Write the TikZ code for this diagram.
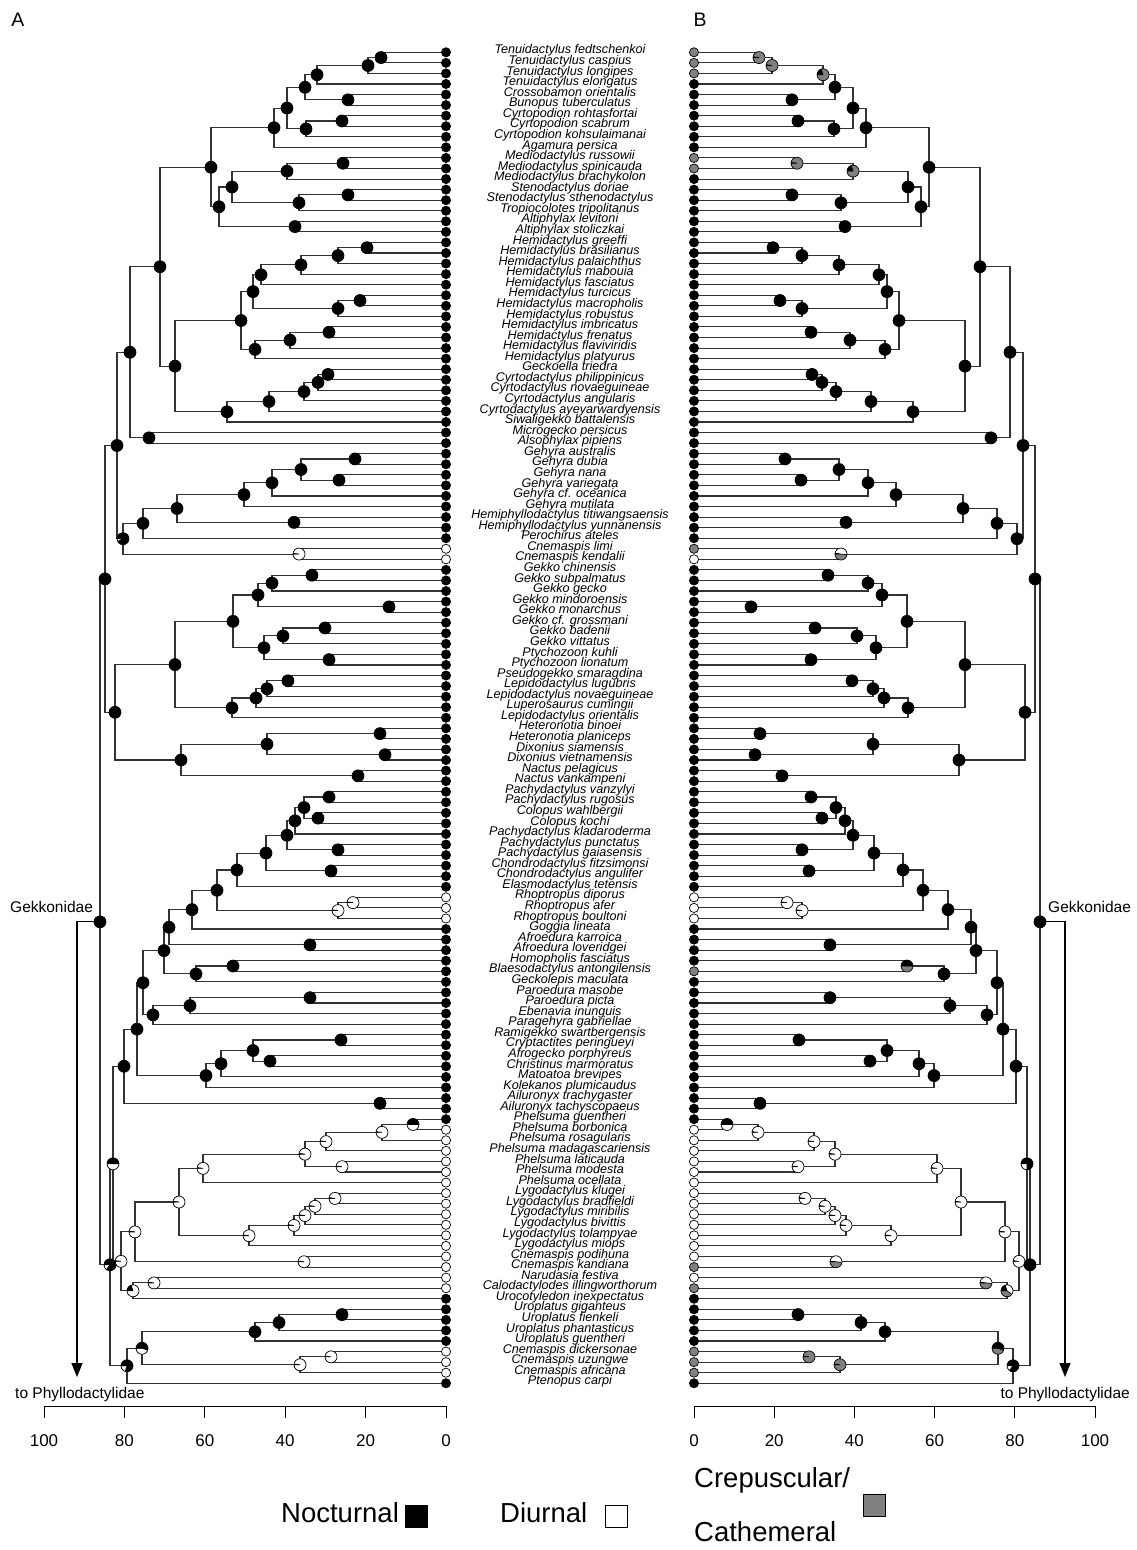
\documentclass[tikz,border=0pt]{standalone}
\usepackage{fontspec}
\setmainfont{Liberation Sans}
\usepackage{xcolor}
\usetikzlibrary{arrows.meta,calc}
\pgfdeclarelayer{bg}
\pgfsetlayers{bg,main}
\definecolor{crepgray}{gray}{0.5}
\definecolor{branchgray}{gray}{0.2}
\colorlet{stateN}{black}
\colorlet{stateD}{white}
\colorlet{stateC}{crepgray}
\def\pierad{6pt}
\def\tiprad{4.6pt}

% pie: coordinate, black share, white share (rest grey), clockwise from west
\newcommand\pie[3]{%
  \pgfmathsetmacro\pieA{180-360*#2}%
  \pgfmathsetmacro\pieB{180-360*(#2+#3)}%
  \fill[crepgray] (#1) circle[radius=\pierad];
  \ifdim #3pt>0pt
    \fill[white] (#1) -- ++(\pieA:\pierad) arc[start angle=\pieA, end angle=\pieB, radius=\pierad] -- cycle;
  \fi
  \ifdim #2pt>0pt
    \fill[black] (#1) -- ++(180:\pierad) arc[start angle=180, end angle=\pieA, radius=\pierad] -- cycle;
  \fi
  \draw[pieedge] (#1) -- ++(180:\pierad) (#1) -- ++(\pieA:\pierad) (#1) -- ++(\pieB:\pierad)
    (#1) circle[radius=\pierad];
}

% clade: name, child, child, depth, left black/white, right black/white
\newcommand\clade[8]{%
  \path let \p1=(L#2), \p2=(L#3) in
    coordinate (L#1) at ({(446-#4)*1pt},{(\y1+\y2)/2})
    coordinate (R#1) at ({(694+#4)*1pt},{(\y1+\y2)/2});
  \begin{pgfonlayer}{bg}
    \draw[branch] (L#2) -| (L#1) |- (L#3);
    \draw[branch] (R#2) -| (R#1) |- (R#3);
  \end{pgfonlayer}
  \pie{L#1}{#5}{#6}%
  \pie{R#1}{#7}{#8}%
}

\begin{document}
\begin{tikzpicture}[x=1pt, y=-1pt,
  branch/.style={draw=branchgray, line width=1.1pt},
  pieedge/.style={draw=black, line width=0.7pt},
  tipdot/.style={draw=black, line width=0.7pt},
  taxon/.style={font=\fontsize{12.6}{13}\selectfont\itshape, inner sep=0pt, anchor=mid},
  grouplabel/.style={font=\fontsize{15.5}{17}\selectfont, inner sep=0pt},
  ticklabel/.style={font=\fontsize{17}{19}\selectfont, inner sep=0pt},
  panel/.style={font=\fontsize{19.5}{21}\selectfont, inner sep=0pt},
  legendtext/.style={font=\fontsize{27.5}{33}\selectfont, inner sep=0pt},
  legendtwo/.style={font=\fontsize{27.5}{54}\selectfont, inner sep=0pt, align=left},
  keybox/.style={draw=black, line width=0.8pt, minimum size=22pt, inner sep=0pt},
  axisline/.style={draw=black, line width=0.9pt},
  stem/.style={draw=black, line width=1.1pt, -{Triangle[length=14pt, width=11pt]}}
]
\useasboundingbox (0,0) rectangle (1137,1550);
\begin{pgfonlayer}{bg}
  \fill[white] (0,0) rectangle (1137,1550);
\end{pgfonlayer}

\foreach \i/\sp/\sl/\sr in {
  1/Tenuidactylus fedtschenkoi/N/C,
  2/Tenuidactylus caspius/N/C,
  3/Tenuidactylus longipes/N/C,
  4/Tenuidactylus elongatus/N/N,
  5/Crossobamon orientalis/N/N,
  6/Bunopus tuberculatus/N/N,
  7/Cyrtopodion rohtasfortai/N/N,
  8/Cyrtopodion scabrum/N/N,
  9/Cyrtopodion kohsulaimanai/N/N,
  10/Agamura persica/N/N,
  11/Mediodactylus russowii/N/C,
  12/Mediodactylus spinicauda/N/C,
  13/Mediodactylus brachykolon/N/N,
  14/Stenodactylus doriae/N/N,
  15/Stenodactylus sthenodactylus/N/N,
  16/Tropiocolotes tripolitanus/N/N,
  17/Altiphylax levitoni/N/N,
  18/Altiphylax stoliczkai/N/N,
  19/Hemidactylus greeffi/N/N,
  20/Hemidactylus brasilianus/N/N,
  21/Hemidactylus palaichthus/N/N,
  22/Hemidactylus mabouia/N/N,
  23/Hemidactylus fasciatus/N/N,
  24/Hemidactylus turcicus/N/N,
  25/Hemidactylus macropholis/N/N,
  26/Hemidactylus robustus/N/N,
  27/Hemidactylus imbricatus/N/N,
  28/Hemidactylus frenatus/N/N,
  29/Hemidactylus flaviviridis/N/N,
  30/Hemidactylus platyurus/N/N,
  31/Geckoella triedra/N/N,
  32/Cyrtodactylus philippinicus/N/N,
  33/Cyrtodactylus novaeguineae/N/N,
  34/Cyrtodactylus angularis/N/N,
  35/Cyrtodactylus ayeyarwardyensis/N/N,
  36/Siwaligekko battalensis/N/N,
  37/Microgecko persicus/N/N,
  38/Alsophylax pipiens/N/N,
  39/Gehyra australis/N/N,
  40/Gehyra dubia/N/N,
  41/Gehyra nana/N/N,
  42/Gehyra variegata/N/N,
  43/Gehyra cf. oceanica/N/N,
  44/Gehyra mutilata/N/N,
  45/Hemiphyllodactylus titiwangsaensis/N/N,
  46/Hemiphyllodactylus yunnanensis/N/N,
  47/Perochirus ateles/N/N,
  48/Cnemaspis limi/D/C,
  49/Cnemaspis kendalii/D/D,
  50/Gekko chinensis/N/N,
  51/Gekko subpalmatus/N/N,
  52/Gekko gecko/N/N,
  53/Gekko mindoroensis/N/N,
  54/Gekko monarchus/N/N,
  55/Gekko cf. grossmani/N/N,
  56/Gekko badenii/N/N,
  57/Gekko vittatus/N/N,
  58/Ptychozoon kuhli/N/N,
  59/Ptychozoon lionatum/N/N,
  60/Pseudogekko smaragdina/N/N,
  61/Lepidodactylus lugubris/N/N,
  62/Lepidodactylus novaeguineae/N/N,
  63/Luperosaurus cumingii/N/N,
  64/Lepidodactylus orientalis/N/N,
  65/Heteronotia binoei/N/N,
  66/Heteronotia planiceps/N/N,
  67/Dixonius siamensis/N/N,
  68/Dixonius vietnamensis/N/N,
  69/Nactus pelagicus/N/N,
  70/Nactus vankampeni/N/N,
  71/Pachydactylus vanzylyi/N/N,
  72/Pachydactylus rugosus/N/N,
  73/Colopus wahlbergii/N/N,
  74/Colopus kochi/N/N,
  75/Pachydactylus kladaroderma/N/N,
  76/Pachydactylus punctatus/N/N,
  77/Pachydactylus gaiasensis/N/N,
  78/Chondrodactylus fitzsimonsi/N/N,
  79/Chondrodactylus angulifer/N/N,
  80/Elasmodactylus tetensis/N/N,
  81/Rhoptropus diporus/D/D,
  82/Rhoptropus afer/D/D,
  83/Rhoptropus boultoni/D/D,
  84/Goggia lineata/N/N,
  85/Afroedura karroica/N/N,
  86/Afroedura loveridgei/N/N,
  87/Homopholis fasciatus/N/N,
  88/Blaesodactylus antongilensis/N/C,
  89/Geckolepis maculata/N/N,
  90/Paroedura masobe/N/N,
  91/Paroedura picta/N/N,
  92/Ebenavia inunguis/N/N,
  93/Paragehyra gabriellae/N/N,
  94/Ramigekko swartbergensis/N/N,
  95/Cryptactites peringueyi/N/N,
  96/Afrogecko porphyreus/N/N,
  97/Christinus marmoratus/N/N,
  98/Matoatoa brevipes/N/N,
  99/Kolekanos plumicaudus/N/N,
  100/Ailuronyx trachygaster/N/N,
  101/Ailuronyx tachyscopaeus/N/N,
  102/Phelsuma guentheri/N/N,
  103/Phelsuma borbonica/D/D,
  104/Phelsuma rosagularis/D/D,
  105/Phelsuma madagascariensis/D/D,
  106/Phelsuma laticauda/D/D,
  107/Phelsuma modesta/D/D,
  108/Phelsuma ocellata/D/D,
  109/Lygodactylus klugei/D/D,
  110/Lygodactylus bradfieldi/D/D,
  111/Lygodactylus miribilis/D/D,
  112/Lygodactylus bivittis/D/D,
  113/Lygodactylus tolampyae/D/D,
  114/Lygodactylus miops/D/D,
  115/Cnemaspis podihuna/D/D,
  116/Cnemaspis kandiana/D/C,
  117/Narudasia festiva/D/D,
  118/Calodactylodes illingworthorum/D/C,
  119/Urocotyledon inexpectatus/N/N,
  120/Uroplatus giganteus/N/N,
  121/Uroplatus fienkeli/N/N,
  122/Uroplatus phantasticus/N/N,
  123/Uroplatus guentheri/N/N,
  124/Cnemaspis dickersonae/D/C,
  125/Cnemaspis uzungwe/D/C,
  126/Cnemaspis africana/D/C,
  127/Ptenopus carpi/N/N}{
  \coordinate (Lt\i) at (446,{52.3+(\i-1)*10.563});
  \coordinate (Rt\i) at (694,{52.3+(\i-1)*10.563});
  \node[taxon] (name\i) at (570,{51.3+(\i-1)*10.563}) {\sp};
  \draw[tipdot, fill=state\sl] (Lt\i) circle[radius=\tiprad];
  \draw[tipdot, fill=state\sr] (Rt\i) circle[radius=\tiprad];
}

\clade{n1}{t1}{t2}{65}{1}{0}{.02}{0}
\clade{n2}{n1}{t3}{78}{1}{0}{.02}{0}
\clade{n3}{n2}{t4}{129}{1}{0}{.2}{0}
\clade{n4}{t5}{t6}{98}{1}{0}{1}{0}
\clade{n5}{n3}{n4}{141}{1}{0}{1}{0}
\clade{n6}{t7}{t8}{104}{1}{0}{1}{0}
\clade{n7}{n6}{t9}{140}{1}{0}{1}{0}
\clade{n8}{n5}{n7}{159}{1}{0}{1}{0}
\clade{n9}{n8}{t10}{172}{1}{0}{1}{0}
\clade{n10}{t11}{t12}{103}{1}{0}{.02}{0}
\clade{n11}{n10}{t13}{159}{1}{0}{.2}{0}
\clade{n12}{t14}{t15}{98}{1}{0}{1}{0}
\clade{n13}{n12}{t16}{147}{1}{0}{1}{0}
\clade{n14}{n11}{n13}{214}{1}{0}{1}{0}
\clade{n15}{t17}{t18}{151}{1}{0}{1}{0}
\clade{n16}{n14}{n15}{227}{1}{0}{1}{0}
\clade{n17}{n9}{n16}{235}{1}{0}{1}{0}
\clade{n18}{t19}{t20}{79}{1}{0}{1}{0}
\clade{n19}{n18}{t21}{108}{1}{0}{1}{0}
\clade{n20}{n19}{t22}{145}{1}{0}{1}{0}
\clade{n21}{n20}{t23}{185}{1}{0}{1}{0}
\clade{n22}{t24}{t25}{86}{1}{0}{1}{0}
\clade{n23}{n22}{t26}{108}{1}{0}{1}{0}
\clade{n24}{n21}{n23}{193}{1}{0}{1}{0}
\clade{n25}{t27}{t28}{117}{1}{0}{1}{0}
\clade{n26}{n25}{t29}{156}{1}{0}{1}{0}
\clade{n27}{n26}{t30}{191}{1}{0}{1}{0}
\clade{n28}{n24}{n27}{205}{1}{0}{1}{0}
\clade{n29}{t31}{t32}{118}{1}{0}{1}{0}
\clade{n30}{n29}{t33}{128}{1}{0}{1}{0}
\clade{n31}{n30}{t34}{142}{1}{0}{1}{0}
\clade{n32}{n31}{t35}{177}{1}{0}{1}{0}
\clade{n33}{n32}{t36}{219}{1}{0}{1}{0}
\clade{n34}{n28}{n33}{271}{1}{0}{1}{0}
\clade{n35}{n17}{n34}{286}{1}{0}{1}{0}
\clade{n36}{t37}{t38}{297}{1}{0}{1}{0}
\clade{n37}{n35}{n36}{316}{1}{0}{1}{0}
\clade{n38}{t39}{t40}{91}{1}{0}{1}{0}
\clade{n39}{t41}{t42}{107}{1}{0}{1}{0}
\clade{n40}{n38}{n39}{145}{1}{0}{1}{0}
\clade{n41}{n40}{t43}{174}{1}{0}{1}{0}
\clade{n42}{n41}{t44}{202}{1}{0}{1}{0}
\clade{n43}{t45}{t46}{152}{1}{0}{1}{0}
\clade{n44}{n42}{n43}{269}{1}{0}{1}{0}
\clade{n45}{n44}{t47}{303}{1}{0}{1}{0}
\clade{n46}{t48}{t49}{147}{.02}{.98}{.02}{.5}
\clade{n47}{n45}{n46}{323}{.92}{.08}{1}{0}
\clade{n48}{n37}{n47}{329}{1}{0}{1}{0}
\clade{n49}{t50}{t51}{134}{1}{0}{1}{0}
\clade{n50}{n49}{t52}{174}{1}{0}{1}{0}
\clade{n51}{t53}{t54}{57}{1}{0}{1}{0}
\clade{n52}{n50}{n51}{188}{1}{0}{1}{0}
\clade{n53}{t55}{t56}{121}{1}{0}{1}{0}
\clade{n54}{n53}{t57}{163}{1}{0}{1}{0}
\clade{n55}{t58}{t59}{117}{1}{0}{1}{0}
\clade{n56}{n54}{n55}{182}{1}{0}{1}{0}
\clade{n57}{n52}{n56}{213}{1}{0}{1}{0}
\clade{n58}{t60}{t61}{158}{1}{0}{1}{0}
\clade{n59}{n58}{t62}{179}{1}{0}{1}{0}
\clade{n60}{n59}{t63}{190}{1}{0}{1}{0}
\clade{n61}{n60}{t64}{214}{1}{0}{1}{0}
\clade{n62}{n57}{n61}{271}{1}{0}{1}{0}
\clade{n63}{t65}{t66}{66}{1}{0}{1}{0}
\clade{n64}{t67}{t68}{61}{1}{0}{1}{0}
\clade{n65}{n63}{n64}{179}{1}{0}{1}{0}
\clade{n66}{t69}{t70}{88}{1}{0}{1}{0}
\clade{n67}{n65}{n66}{265}{1}{0}{1}{0}
\clade{n68}{n62}{n67}{331}{1}{0}{1}{0}
\clade{n69}{n48}{n68}{341}{1}{0}{1}{0}
\clade{n70}{t71}{t72}{117}{1}{0}{1}{0}
\clade{n71}{t73}{t74}{128}{1}{0}{1}{0}
\clade{n72}{n70}{n71}{142}{1}{0}{1}{0}
\clade{n73}{n72}{t75}{151}{1}{0}{1}{0}
\clade{n74}{t76}{t77}{108}{1}{0}{1}{0}
\clade{n75}{n73}{n74}{159}{1}{0}{1}{0}
\clade{n76}{t78}{t79}{115}{1}{0}{1}{0}
\clade{n77}{n75}{n76}{180}{1}{0}{1}{0}
\clade{n78}{n77}{t80}{209}{1}{0}{1}{0}
\clade{n79}{t81}{t82}{93}{.02}{.98}{.02}{.98}
\clade{n80}{n79}{t83}{108}{.02}{.98}{.02}{.98}
\clade{n81}{n78}{n80}{229}{.95}{.05}{.95}{.05}
\clade{n82}{n81}{t84}{254}{1}{0}{1}{0}
\clade{n83}{t85}{t86}{136}{1}{0}{1}{0}
\clade{n84}{n82}{n83}{277}{1}{0}{1}{0}
\clade{n85}{t87}{t88}{213}{1}{0}{.5}{0}
\clade{n86}{n85}{t89}{250}{1}{0}{1}{0}
\clade{n87}{n84}{n86}{282}{1}{0}{1}{0}
\clade{n88}{t90}{t91}{136}{1}{0}{1}{0}
\clade{n89}{n88}{t92}{256}{1}{0}{1}{0}
\clade{n90}{n89}{t93}{293}{1}{0}{1}{0}
\clade{n91}{n87}{n90}{303}{1}{0}{1}{0}
\clade{n92}{t94}{t95}{105}{1}{0}{1}{0}
\clade{n93}{t96}{t97}{176}{1}{0}{1}{0}
\clade{n94}{n92}{n93}{193}{1}{0}{1}{0}
\clade{n95}{n94}{t98}{225}{1}{0}{1}{0}
\clade{n96}{n95}{t99}{240}{1}{0}{1}{0}
\clade{n97}{n91}{n96}{309}{1}{0}{1}{0}
\clade{n98}{t100}{t101}{66}{1}{0}{1}{0}
\clade{n99}{n97}{n98}{322}{1}{0}{1}{0}
\clade{n100}{t102}{t103}{33}{.5}{.5}{.5}{.5}
\clade{n101}{n100}{t104}{64}{.02}{.98}{.02}{.98}
\clade{n102}{n101}{t105}{120}{.02}{.98}{.02}{.98}
\clade{n103}{t106}{t107}{104}{.02}{.98}{.02}{.98}
\clade{n104}{n102}{n103}{141}{.02}{.98}{.02}{.98}
\clade{n105}{n104}{t108}{243}{.02}{.98}{.02}{.98}
\clade{n106}{t109}{t110}{111}{.02}{.98}{.02}{.98}
\clade{n107}{n106}{t111}{131}{.02}{.98}{.02}{.98}
\clade{n108}{n107}{t112}{141}{.02}{.98}{.02}{.98}
\clade{n109}{n108}{t113}{152}{.02}{.98}{.02}{.98}
\clade{n110}{n109}{t114}{197}{.02}{.98}{.02}{.98}
\clade{n111}{n105}{n110}{267}{.02}{.98}{.02}{.98}
\clade{n112}{t115}{t116}{142}{.02}{.98}{.02}{.5}
\clade{n113}{n111}{n112}{311}{.02}{.98}{.02}{.98}
\clade{n114}{t117}{t118}{292}{.02}{.98}{.02}{.5}
\clade{n115}{n114}{t119}{313}{.2}{.8}{.2}{.4}
\clade{n116}{n113}{n115}{325}{.02}{.98}{.02}{.98}
\clade{n117}{n99}{n116}{333}{.5}{.5}{.75}{.25}
\clade{n118}{t120}{t121}{104}{1}{0}{1}{0}
\clade{n119}{n118}{t122}{167}{1}{0}{1}{0}
\clade{n120}{n119}{t123}{191}{1}{0}{1}{0}
\clade{n121}{t124}{t125}{115}{.02}{.98}{.02}{0}
\clade{n122}{n121}{t126}{146}{.02}{.98}{.02}{0}
\clade{n123}{n120}{n122}{304}{.55}{.45}{.55}{0}
\clade{n124}{n123}{t127}{319}{.8}{.2}{.85}{.15}
\clade{n125}{n117}{n124}{336}{.85}{.15}{1}{0}
\clade{n126}{n69}{n125}{346}{1}{0}{1}{0}

% stems to the outgroup
\coordinate (Lroot) at (77,1377);
\coordinate (Rroot) at (1065,1377);
\begin{pgfonlayer}{bg}
  \draw[stem] (Ln126) -| (Lroot);
  \draw[stem] (Rn126) -| (Rroot);
\end{pgfonlayer}
\node[grouplabel, anchor=west] (gekL) at (10,907) {Gekkonidae};
\node[grouplabel, anchor=west] (gekR) at (1048,907) {Gekkonidae};
\node[grouplabel, anchor=west] (phyL) at (15,1394) {to Phyllodactylidae};
\node[grouplabel, anchor=east] (phyR) at (1130,1394) {to Phyllodactylidae};

% time axes
\draw[axisline] (44,1406) -- (446,1406);
\draw[axisline] (694,1406) -- (1095,1406);
\foreach \v in {0,20,...,100}{
  \draw[axisline] ({446-4.02*\v},1406) -- ++(0,12);
  \draw[axisline] ({694+4.01*\v},1406) -- ++(0,12);
  \node[ticklabel] (tickL\v) at ({446-4.02*\v},1441) {\v};
  \node[ticklabel] (tickR\v) at ({694+4.01*\v},1441) {\v};
}

\node[panel] (panelA) at (18,20) {A};
\node[panel] (panelB) at (700,20) {B};

% legend
\node[legendtext, anchor=mid west] (legNoct) at (281,1520) {Nocturnal};
\node[keybox, fill=black] (keyNoct) at (416,1516) {};
\node[legendtext, anchor=mid west] (legDiur) at (500,1520) {Diurnal};
\node[keybox, fill=white] (keyDiur) at (616,1516) {};
\node[legendtwo, anchor=west] (legCrep) at (694,1505) {Crepuscular/\\Cathemeral};
\node[keybox, fill=crepgray] (keyCrep) at (874,1505) {};
\end{tikzpicture}
\end{document}
